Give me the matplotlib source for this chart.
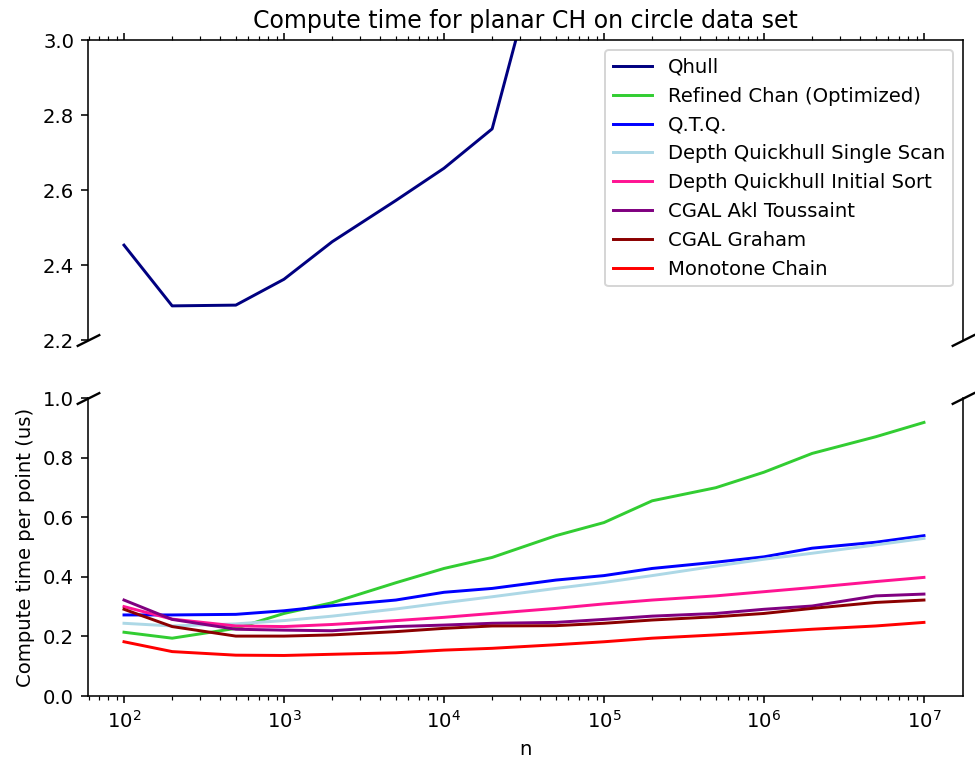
import numpy as np
import matplotlib
matplotlib.use("Agg")
import matplotlib.pyplot as plt

n = [100, 200, 500, 1000, 2000, 5000, 10000, 20000, 50000,
     100000, 200000, 500000, 1000000, 2000000, 5000000, 10000000]

nan = np.nan
qhull = [2.453, 2.291, 2.293, 2.362, 2.462, 2.572, 2.658, 2.763, 3.40,
         nan, nan, nan, nan, nan, nan, nan]
refined_chan = [0.214, 0.194, 0.227, 0.277, 0.313, 0.380, 0.428, 0.465, 0.538,
                0.582, 0.655, 0.699, 0.751, 0.814, 0.870, 0.918]
qtq = [0.272, 0.272, 0.274, 0.286, 0.303, 0.322, 0.348, 0.361, 0.389,
       0.404, 0.428, 0.449, 0.467, 0.496, 0.516, 0.538]
dqh_single = [0.244, 0.235, 0.242, 0.253, 0.268, 0.292, 0.313, 0.333, 0.361,
              0.381, 0.404, 0.436, 0.459, 0.479, 0.507, 0.529]
dqh_sort = [0.300, 0.258, 0.235, 0.233, 0.240, 0.253, 0.264, 0.277, 0.294,
            0.309, 0.322, 0.336, 0.350, 0.364, 0.384, 0.398]
cgal_akl = [0.322, 0.257, 0.224, 0.221, 0.219, 0.233, 0.238, 0.244, 0.247,
            0.257, 0.268, 0.277, 0.291, 0.302, 0.336, 0.342]
cgal_graham = [0.291, 0.233, 0.201, 0.201, 0.205, 0.216, 0.227, 0.235, 0.236,
               0.244, 0.255, 0.266, 0.277, 0.294, 0.314, 0.322]
monotone = [0.182, 0.149, 0.137, 0.136, 0.140, 0.145, 0.154, 0.160, 0.172,
            0.182, 0.194, 0.205, 0.214, 0.224, 0.235, 0.247]

series = [
    ("Qhull", qhull, "navy"),
    ("Refined Chan (Optimized)", refined_chan, "limegreen"),
    ("Q.T.Q.", qtq, "blue"),
    ("Depth Quickhull Single Scan", dqh_single, "lightblue"),
    ("Depth Quickhull Initial Sort", dqh_sort, "deeppink"),
    ("CGAL Akl Toussaint", cgal_akl, "purple"),
    ("CGAL Graham", cgal_graham, "darkred"),
    ("Monotone Chain", monotone, "red"),
]

DPI = 141.7
fig = plt.figure(figsize=(975 / DPI, 758 / DPI), dpi=DPI)
L, R = 88 / 975, 963 / 975
ax1 = fig.add_axes([L, 1 - 340 / 758, R - L, 300 / 758])
ax2 = fig.add_axes([L, 1 - 696 / 758, R - L, 298 / 758], sharex=ax1)

for label, vals, color in series:
    ax1.plot(n, vals, color=color, label=label)
    ax2.plot(n, vals, color=color, label=label)

ax1.set_xscale("log")
ax1.set_xlim(10 ** 1.775, 10 ** 7.244)
ax1.set_ylim(2.2, 3.0)
ax2.set_ylim(0.0, 1.0)
ax1.set_yticks([2.2, 2.4, 2.6, 2.8, 3.0])
ax2.set_yticks([0.0, 0.2, 0.4, 0.6, 0.8, 1.0])

ax1.spines["bottom"].set_visible(False)
ax2.spines["top"].set_visible(False)
ax1.xaxis.tick_top()
ax1.tick_params(which="both", labeltop=False)
ax2.xaxis.tick_bottom()

d = 0.5
kw = dict(marker=[(-1, -d), (1, d)], markersize=12, linestyle="none",
          color="k", mec="k", mew=1.2, clip_on=False)
ax1.plot([0, 1], [0, 0], transform=ax1.transAxes, **kw)
ax2.plot([0, 1], [1, 1], transform=ax2.transAxes, **kw)

ax1.set_title("Compute time for planar CH on circle data set")
ax2.set_xlabel("n")
ax2.set_ylabel("Compute time per point (us)")
ax1.legend(loc="upper right")

fig.savefig("out.png", dpi=DPI)
